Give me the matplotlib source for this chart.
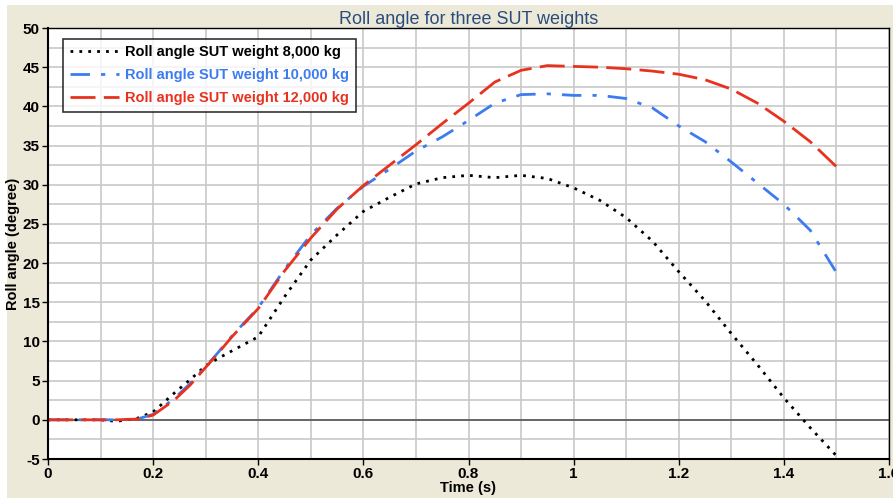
import numpy as np
import matplotlib.pyplot as plt
from matplotlib.patches import Rectangle
from matplotlib.ticker import MultipleLocator

plt.rcParams['font.family'] = ['Liberation Sans', 'DejaVu Sans']
plt.rcParams['axes.unicode_minus'] = False

# 时间 (s)
t = [0.0, 0.05, 0.1, 0.13, 0.17, 0.2, 0.24, 0.27, 0.3, 0.32, 0.35, 0.4, 0.45, 0.5,
     0.55, 0.6, 0.65, 0.7, 0.75, 0.8, 0.85, 0.9, 0.95, 1.0, 1.05, 1.1, 1.15,
     1.2, 1.25, 1.3, 1.35, 1.4, 1.45, 1.5]

roll_8000 = [0.0, 0.0, 0.0, -0.2, 0.2, 1.0, 3.4, 5.1, 6.9, 7.7, 8.8, 10.6, 15.7, 20.4,
             23.6, 26.6, 28.4, 30.1, 30.9, 31.2, 30.9, 31.2, 30.8, 29.6, 28.0, 25.8, 22.8,
             18.9, 15.2, 11.0, 7.0, 2.8, -1.0, -4.6]

roll_10000 = [0.0, 0.0, 0.0, 0.0, 0.1, 0.7, 2.7, 4.6, 6.8, 8.3, 10.7, 14.3, 19.2, 23.6,
              27.0, 29.8, 32.0, 34.3, 36.1, 38.2, 40.4, 41.5, 41.6, 41.4, 41.4, 41.0, 39.8,
              37.5, 35.5, 32.9, 30.2, 27.5, 24.2, 18.8]

roll_12000 = [0.0, 0.0, 0.0, 0.0, 0.1, 0.6, 2.5, 4.4, 6.7, 8.2, 10.6, 14.2, 19.0, 23.2,
              26.9, 29.9, 32.5, 35.1, 37.8, 40.4, 43.1, 44.6, 45.2, 45.1, 45.0, 44.8, 44.5,
              44.1, 43.4, 42.2, 40.4, 38.1, 35.5, 32.3]

labels = ['Roll angle SUT weight 8,000 kg',
          'Roll angle SUT weight 10,000 kg',
          'Roll angle SUT weight 12,000 kg']

fig = plt.figure(figsize=(8.93, 4.98), dpi=100, facecolor='white')
fig.patches.append(Rectangle((7 / 893, 0), 1, 493 / 498, transform=fig.transFigure,
                             facecolor='#ECE9D8', edgecolor='none', zorder=-1))
ax = fig.add_axes([48 / 893, 39 / 498, 841 / 893, 431 / 498])
ax.set_facecolor('white')

ax.plot(t, roll_8000, color='black', lw=2, linestyle=(0, (1, 2.2)), label=labels[0])
ax.plot(t, roll_10000, color='#3C7BF0', lw=2, linestyle=(0, (7, 4, 1.5, 4)), label=labels[1])
ax.plot(t, roll_12000, color='#E8321E', lw=2, linestyle=(0, (9, 3)), label=labels[2])

ax.axhline(0, color='#555555', lw=1.2, zorder=1)

ax.set_xlim(0, 1.6)
ax.set_ylim(-5, 50)
ax.xaxis.set_major_locator(MultipleLocator(0.2))
ax.xaxis.set_minor_locator(MultipleLocator(0.1))
ax.yaxis.set_major_locator(MultipleLocator(5))
ax.yaxis.set_minor_locator(MultipleLocator(2.5))
ax.xaxis.set_major_formatter(plt.FuncFormatter(lambda v, p: ('%g' % round(v, 2))))
ax.grid(which='both', color='#C8C8C8', lw=1.2, zorder=0)
ax.set_axisbelow(True)
ax.tick_params(which='major', labelsize=11, length=4, width=1, direction='out', pad=2)
ax.tick_params(which='minor', length=0)
for lab in ax.get_xticklabels() + ax.get_yticklabels():
    lab.set_fontweight('bold')

for s in ['left', 'bottom']:
    ax.spines[s].set_linewidth(1.5)
for s in ['right', 'top']:
    ax.spines[s].set_linewidth(1.0)

ax.set_xlabel('Time (s)', fontsize=10.5, fontweight='bold', labelpad=0)
ax.set_ylabel('Roll angle (degree)', fontsize=10.5, fontweight='bold', labelpad=2)
ax.set_title('Roll angle for three SUT weights', fontsize=13, color='#2B4C7E', pad=3)

leg = ax.legend(loc='upper left', bbox_to_anchor=(0.018, 0.975), fontsize=10.5,
                frameon=True, fancybox=False, edgecolor='black', handlelength=3.4,
                borderpad=0.45, labelspacing=0.62, handletextpad=0.4, borderaxespad=0)
leg.get_frame().set_linewidth(1.2)
for txt, line in zip(leg.get_texts(), leg.get_lines()):
    txt.set_color(line.get_color())
    txt.set_fontweight('bold')

fig.savefig('out.png', dpi=100, facecolor=fig.get_facecolor())
